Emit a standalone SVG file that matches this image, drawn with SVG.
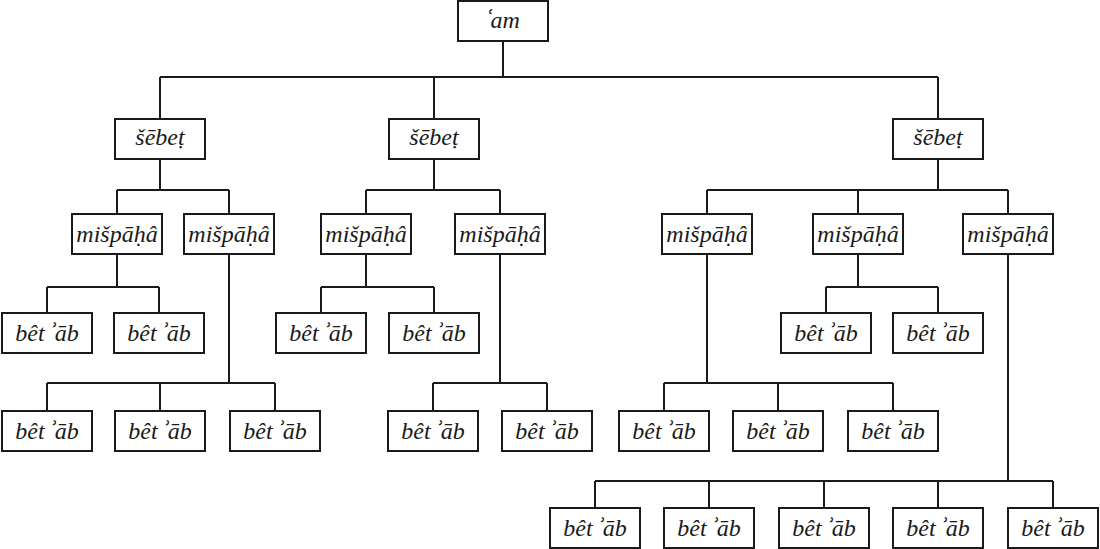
<svg xmlns="http://www.w3.org/2000/svg" width="1100" height="549" viewBox="0 0 1100 549">
<style>
rect{fill:#fff;stroke:#1a1a1a;stroke-width:2}
text{fill:#1a1a1a;text-anchor:middle}
.h{font-family:"Noto Serif","Liberation Serif",serif}
#connectors path{fill:none;stroke:#1a1a1a;stroke-width:2}
</style>
<defs>
<g id="dummy"/>
</defs>
<rect x="0" y="0" width="1100" height="549" style="fill:#fff;stroke:none"/>
<g id="connectors">
<path d="M503,41V77M160,77H938M160,77V119M434,77V119M938,77V119"/>
<path d="M160,159V190M117,190H229M117,190V214M229,190V214"/>
<path d="M434,159V190M366,190H500M366,190V214M500,190V214"/>
<path d="M938,159V190M707,190H1008M707,190V214M858,190V214M1008,190V214"/>
<path d="M117,254V287M47,287H159M47,287V313M159,287V313"/>
<path d="M366,254V287M321,287H434M321,287V313M434,287V313"/>
<path d="M858,254V287M826,287H938M826,287V313M938,287V313"/>
<path d="M229,254V383M47,383H275M47,383V411M160,383V411M275,383V411"/>
<path d="M500,254V383M433,383H547M433,383V411M547,383V411"/>
<path d="M707,254V383M664,383H893M664,383V411M778,383V411M893,383V411"/>
<path d="M1008,254V481M595,481H1053M595,481V508M709,481V508M824,481V508M938,481V508M1053,481V508"/>
</g>
<g font-family="Liberation Serif, Times New Roman, serif" font-style="italic" font-size="24">
<g id="am"><rect x="458" y="1" width="90" height="40"/><text x="503" y="28"><tspan class="h">ʿ</tspan>am</text></g>
<g id="shebet1"><rect x="115" y="119" width="90" height="40"/><text x="160" y="145">šēbeṭ</text></g>
<g id="shebet2"><rect x="389" y="119" width="90" height="40"/><text x="434" y="145">šēbeṭ</text></g>
<g id="shebet3"><rect x="893" y="119" width="90" height="40"/><text x="938" y="145">šēbeṭ</text></g>
<g id="mishpaha1"><rect x="72" y="214" width="90" height="40"/><text x="117" y="242">mišpāḥâ</text></g>
<g id="mishpaha2"><rect x="184" y="214" width="90" height="40"/><text x="229" y="242">mišpāḥâ</text></g>
<g id="mishpaha3"><rect x="321" y="214" width="90" height="40"/><text x="366" y="242">mišpāḥâ</text></g>
<g id="mishpaha4"><rect x="455" y="214" width="90" height="40"/><text x="500" y="242">mišpāḥâ</text></g>
<g id="mishpaha5"><rect x="662" y="214" width="90" height="40"/><text x="707" y="242">mišpāḥâ</text></g>
<g id="mishpaha6"><rect x="813" y="214" width="90" height="40"/><text x="858" y="242">mišpāḥâ</text></g>
<g id="mishpaha7"><rect x="963" y="214" width="90" height="40"/><text x="1008" y="242">mišpāḥâ</text></g>
<g id="betab1"><rect x="2" y="313" width="90" height="40"/><text x="47" y="341">bêt <tspan class="h">ʾ</tspan>āb</text></g>
<g id="betab2"><rect x="114" y="313" width="90" height="40"/><text x="159" y="341">bêt <tspan class="h">ʾ</tspan>āb</text></g>
<g id="betab3"><rect x="276" y="313" width="90" height="40"/><text x="321" y="341">bêt <tspan class="h">ʾ</tspan>āb</text></g>
<g id="betab4"><rect x="389" y="313" width="90" height="40"/><text x="434" y="341">bêt <tspan class="h">ʾ</tspan>āb</text></g>
<g id="betab5"><rect x="781" y="313" width="90" height="40"/><text x="826" y="341">bêt <tspan class="h">ʾ</tspan>āb</text></g>
<g id="betab6"><rect x="893" y="313" width="90" height="40"/><text x="938" y="341">bêt <tspan class="h">ʾ</tspan>āb</text></g>
<g id="betab7"><rect x="2" y="411" width="90" height="40"/><text x="47" y="439">bêt <tspan class="h">ʾ</tspan>āb</text></g>
<g id="betab8"><rect x="115" y="411" width="90" height="40"/><text x="160" y="439">bêt <tspan class="h">ʾ</tspan>āb</text></g>
<g id="betab9"><rect x="230" y="411" width="90" height="40"/><text x="275" y="439">bêt <tspan class="h">ʾ</tspan>āb</text></g>
<g id="betab10"><rect x="388" y="411" width="90" height="40"/><text x="433" y="439">bêt <tspan class="h">ʾ</tspan>āb</text></g>
<g id="betab11"><rect x="502" y="411" width="90" height="40"/><text x="547" y="439">bêt <tspan class="h">ʾ</tspan>āb</text></g>
<g id="betab12"><rect x="619" y="411" width="90" height="40"/><text x="664" y="439">bêt <tspan class="h">ʾ</tspan>āb</text></g>
<g id="betab13"><rect x="733" y="411" width="90" height="40"/><text x="778" y="439">bêt <tspan class="h">ʾ</tspan>āb</text></g>
<g id="betab14"><rect x="848" y="411" width="90" height="40"/><text x="893" y="439">bêt <tspan class="h">ʾ</tspan>āb</text></g>
<g id="betab15"><rect x="550" y="508" width="90" height="40"/><text x="595" y="536">bêt <tspan class="h">ʾ</tspan>āb</text></g>
<g id="betab16"><rect x="664" y="508" width="90" height="40"/><text x="709" y="536">bêt <tspan class="h">ʾ</tspan>āb</text></g>
<g id="betab17"><rect x="779" y="508" width="90" height="40"/><text x="824" y="536">bêt <tspan class="h">ʾ</tspan>āb</text></g>
<g id="betab18"><rect x="893" y="508" width="90" height="40"/><text x="938" y="536">bêt <tspan class="h">ʾ</tspan>āb</text></g>
<g id="betab19"><rect x="1008" y="508" width="90" height="40"/><text x="1053" y="536">bêt <tspan class="h">ʾ</tspan>āb</text></g>
</g>
</svg>
